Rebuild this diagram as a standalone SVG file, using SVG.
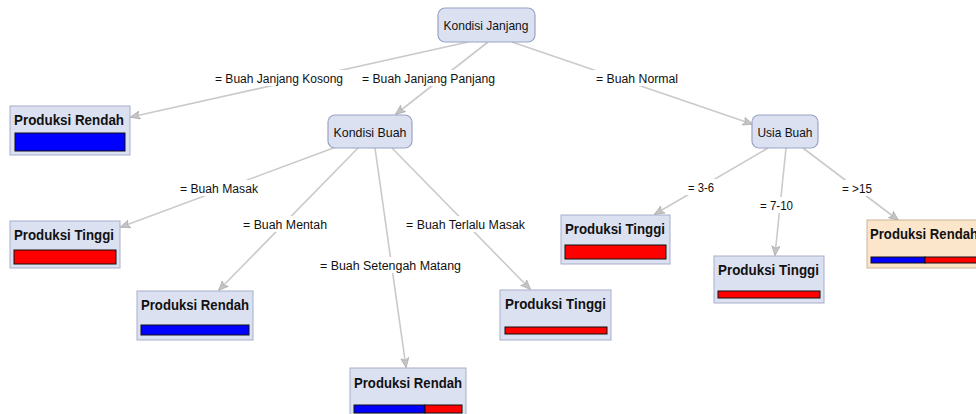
<svg xmlns="http://www.w3.org/2000/svg" width="976" height="414" viewBox="0 0 976 414">
<style>
.bg{fill:#ffffff}
.node{fill:#dce1f2;stroke:#9aa3c6;stroke-width:1.2}
.leaf{fill:#dce1f2;stroke:#a7aec8;stroke-width:1}
.leafo{fill:#fbe6cc;stroke:#c9b49a;stroke-width:1}
.t{font-family:"Liberation Sans",Arial,sans-serif;font-size:13px;fill:#111;text-anchor:middle}
.tb{font-family:"Liberation Sans",Arial,sans-serif;font-size:14.5px;font-weight:bold;fill:#111}
.lbl{font-family:"Liberation Sans",Arial,sans-serif;font-size:12.5px;fill:#111;text-anchor:middle}
.e{stroke:#cacaca;stroke-width:1.6;fill:none;marker-end:url(#ah)}
.blue{fill:#0000ff;stroke:#111;stroke-width:1}
.red{fill:#ff0000;stroke:#111;stroke-width:1}
</style>
<defs>
<marker id="ah" viewBox="0 0 12 10" refX="11" refY="5" markerWidth="10" markerHeight="9" orient="auto" markerUnits="userSpaceOnUse">
<path d="M0,0 L12,5 L0,10 L3,5 Z" fill="#c4c4c4" stroke="#a8a8a8" stroke-width="0.8"/>
</marker>
</defs>
<rect class="bg" x="0" y="0" width="976" height="414"/>
<g id="connectors">
<line class="e" x1="468" y1="42" x2="131" y2="117"/>
<line class="e" x1="488" y1="42" x2="396" y2="114"/>
<line class="e" x1="512" y1="42" x2="752" y2="124"/>
<line class="e" x1="336" y1="147" x2="121" y2="227"/>
<line class="e" x1="358" y1="148" x2="219" y2="290"/>
<line class="e" x1="375" y1="148" x2="406" y2="367"/>
<line class="e" x1="392" y1="148" x2="530" y2="289"/>
<line class="e" x1="768" y1="148" x2="655" y2="214"/>
<line class="e" x1="786" y1="148" x2="775" y2="255"/>
<line class="e" x1="803" y1="148" x2="898" y2="220"/>
</g>
<g id="edge-labels">
<rect x="212" y="70" width="134" height="16" fill="#fff"/>
<text class="lbl" x="279" y="83" textLength="128" lengthAdjust="spacingAndGlyphs">= Buah Janjang Kosong</text>
<rect x="359" y="70" width="139" height="16" fill="#fff"/>
<text class="lbl" x="428.5" y="83" textLength="133" lengthAdjust="spacingAndGlyphs">= Buah Janjang Panjang</text>
<rect x="593" y="70" width="88" height="16" fill="#fff"/>
<text class="lbl" x="637" y="83" textLength="82" lengthAdjust="spacingAndGlyphs">= Buah Normal</text>
<rect x="177" y="180" width="84" height="16" fill="#fff"/>
<text class="lbl" x="219" y="193" textLength="78" lengthAdjust="spacingAndGlyphs">= Buah Masak</text>
<rect x="240" y="216" width="90" height="16" fill="#fff"/>
<text class="lbl" x="285" y="229" textLength="84" lengthAdjust="spacingAndGlyphs">= Buah Mentah</text>
<rect x="317" y="257" width="147" height="16" fill="#fff"/>
<text class="lbl" x="390.5" y="270" textLength="141" lengthAdjust="spacingAndGlyphs">= Buah Setengah Matang</text>
<rect x="403" y="216" width="125" height="16" fill="#fff"/>
<text class="lbl" x="465.5" y="229" textLength="119" lengthAdjust="spacingAndGlyphs">= Buah Terlalu Masak</text>
<rect x="685" y="179" width="32" height="16" fill="#fff"/>
<text class="lbl" x="701" y="192" textLength="26" lengthAdjust="spacingAndGlyphs">= 3-6</text>
<rect x="757" y="197" width="39" height="16" fill="#fff"/>
<text class="lbl" x="776.5" y="210" textLength="33" lengthAdjust="spacingAndGlyphs">= 7-10</text>
<rect x="839" y="180" width="36" height="16" fill="#fff"/>
<text class="lbl" x="857" y="193" textLength="30" lengthAdjust="spacingAndGlyphs">= &gt;15</text>
</g>
<g id="n-kondisi-janjang">
<rect class="node" x="438" y="8" width="97" height="34" rx="7"/>
<text class="t" x="486" y="30" textLength="85" lengthAdjust="spacingAndGlyphs">Kondisi Janjang</text>
</g>
<g id="n-kondisi-buah">
<rect class="node" x="328" y="115" width="84" height="33" rx="7"/>
<text class="t" x="370" y="136.5" textLength="73" lengthAdjust="spacingAndGlyphs">Kondisi Buah</text>
</g>
<g id="n-usia-buah">
<rect class="node" x="752" y="115" width="66" height="33" rx="7"/>
<text class="t" x="785" y="136.5" textLength="55" lengthAdjust="spacingAndGlyphs">Usia Buah</text>
</g>
<g id="leaf-rendah-1">
<rect class="leaf" x="10" y="106" width="120" height="49"/>
<text class="tb" x="14" y="125" textLength="110" lengthAdjust="spacingAndGlyphs">Produksi Rendah</text>
<rect class="blue" x="15" y="133" width="110" height="18"/>
</g>
<g id="leaf-tinggi-1">
<rect class="leaf" x="10" y="221" width="110" height="47"/>
<text class="tb" x="14" y="240" textLength="100" lengthAdjust="spacingAndGlyphs">Produksi Tinggi</text>
<rect class="red" x="14" y="250" width="102" height="14"/>
</g>
<g id="leaf-rendah-2">
<rect class="leaf" x="137" y="291" width="116" height="49"/>
<text class="tb" x="141" y="310" textLength="108" lengthAdjust="spacingAndGlyphs">Produksi Rendah</text>
<rect class="blue" x="141" y="325" width="108" height="10"/>
</g>
<g id="leaf-rendah-3">
<rect class="leaf" x="350" y="368" width="116" height="50"/>
<text class="tb" x="354" y="388" textLength="108" lengthAdjust="spacingAndGlyphs">Produksi Rendah</text>
<rect class="blue" x="354" y="405" width="71" height="8"/>
<rect class="red" x="425" y="405" width="37" height="8"/>
</g>
<g id="leaf-tinggi-2">
<rect class="leaf" x="500" y="290" width="111" height="50"/>
<text class="tb" x="505" y="309" textLength="101" lengthAdjust="spacingAndGlyphs">Produksi Tinggi</text>
<rect class="red" x="505" y="327" width="102" height="7"/>
</g>
<g id="leaf-tinggi-3">
<rect class="leaf" x="561" y="215" width="109" height="49"/>
<text class="tb" x="565" y="234" textLength="100" lengthAdjust="spacingAndGlyphs">Produksi Tinggi</text>
<rect class="red" x="565" y="245" width="101" height="14"/>
</g>
<g id="leaf-tinggi-4">
<rect class="leaf" x="714" y="256" width="110" height="47"/>
<text class="tb" x="718" y="275" textLength="101" lengthAdjust="spacingAndGlyphs">Produksi Tinggi</text>
<rect class="red" x="718" y="291" width="102" height="7"/>
</g>
<g id="leaf-rendah-4">
<rect class="leafo" x="867" y="220" width="115" height="48"/>
<text class="tb" x="870" y="239" textLength="108" lengthAdjust="spacingAndGlyphs">Produksi Rendah</text>
<rect class="blue" x="871" y="257" width="54" height="6"/>
<rect class="red" x="925" y="257" width="56" height="6"/>
</g>
</svg>
